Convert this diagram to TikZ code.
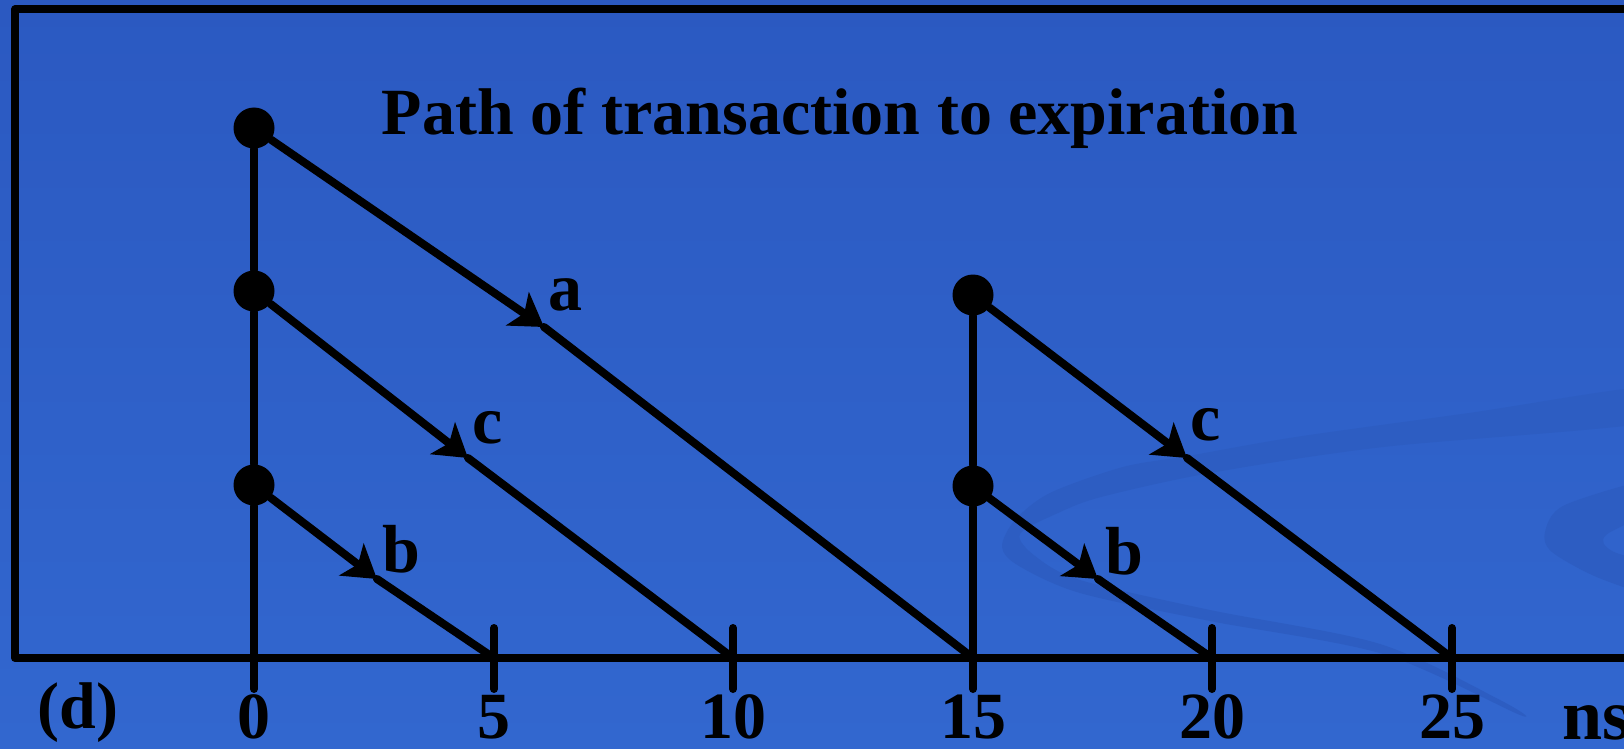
\documentclass[tikz,border=0pt]{standalone}
\usepackage{fontspec}
\setmainfont{Liberation Serif}
\usepackage{tikz}
\usetikzlibrary{arrows.meta}
\definecolor{bgTop}{HTML}{2B59C1}
\definecolor{bgBot}{HTML}{3267CF}
\definecolor{bgSwoosh}{HTML}{2D5DC2}

\begin{document}
\begin{tikzpicture}[x=0.5pt, y=-0.5pt,
                    frame/.style={line width=4pt, line join=round, line cap=round},
                    trans/.style={line width=4pt, line cap=round},
                    tipped/.style={trans, -{Stealth[length=16pt, width=20pt, inset=4pt]}},
                    ptdot/.style={circle, fill=black, minimum size=20.5pt, inner sep=0pt},
                    lbl/.style={inner sep=0pt, font=\fontsize{34}{38}\selectfont\bfseries},
                    num/.style={inner sep=0pt, font=\fontsize{33}{36}\selectfont\bfseries}
                ]
                    \useasboundingbox (0,0) rectangle (1624,749);
                    \clip (0,0) rectangle (1624,749);
                    \fill[top color=bgTop, bottom color=bgBot] (0,0) rectangle (1624,749);
                    \fill[bgSwoosh] plot[smooth cycle, tension=0.5] coordinates {
                        (1660,386) (1469,413) (1296,437) (1188,456) (1123,467) (1050,493)
                        (1015,520) (1002,547) (1019,566) (1080,593) (1210,621) (1383,654)
                        (1520,715) (1500,700) (1380,644) (1210,610) (1080,580) (1035,556)
                        (1020,534) (1058,513) (1101,497) (1210,473) (1383,447) (1660,421)};
                    \fill[bgSwoosh] plot[smooth cycle, tension=0.5] coordinates {
                        (1660,478) (1565,505) (1545,532) (1552,552) (1599,578) (1660,596)
                        (1660,568) (1612,551) (1606,535) (1660,506)};
                    \draw[frame] (1660,9.5) -- (15,9.5) -- (15,658) -- (1660,658);
                    \foreach \k/\x in {0/254,5/494,10/733,15/973,20/1212,25/1452} {
                        \coordinate (t\k) at (\x,658);
                        \draw[trans] (\x,628) -- (\x,689);
                        \node[num] (n\k) at (\x,717) {\k};
                    }
                    \node[ptdot] (a0) at (254,128) {};
                    \node[ptdot] (c0) at (254,291) {};
                    \node[ptdot] (b0) at (254,485) {};
                    \node[ptdot] (c15) at (973,295) {};
                    \node[ptdot] (b15) at (973,486) {};
                    \coordinate (ma) at (544,327);
                    \coordinate (mc) at (468,458);
                    \coordinate (mb) at (377,579);
                    \coordinate (mc2) at (1187,458);
                    \coordinate (mb2) at (1098,579);
                    \draw[trans] (a0) -- (c0) -- (b0) -- (t0);
                    \draw[trans] (c15) -- (b15) -- (t15);
                    \draw[tipped] (a0) -- (ma);
                    \draw[trans] (ma) -- (t15);
                    \draw[tipped] (c0) -- (mc);
                    \draw[trans] (mc) -- (t10);
                    \draw[tipped] (b0) -- (mb);
                    \draw[trans] (mb) -- (t5);
                    \draw[tipped] (c15) -- (mc2);
                    \draw[trans] (mc2) -- (t25);
                    \draw[tipped] (b15) -- (mb2);
                    \draw[trans] (mb2) -- (t20);
                    \node[lbl] (la) at (565,295) {a};
                    \node[lbl] (lc) at (488,428) {c};
                    \node[lbl] (lb) at (401,549) {b};
                    \node[lbl] (lc2) at (1206,425) {c};
                    \node[lbl] (lb2) at (1124,551) {b};
                    \node[inner sep=0pt, anchor=base, font=\fontsize{33}{36}\selectfont\bfseries] (title) at (840,134) {Path of transaction to expiration};
                    \node[lbl, font=\fontsize{33}{36}\selectfont\bfseries] (part) at (78,713) {(d)};
                    \node[lbl, anchor=west, font=\fontsize{36}{40}\selectfont\bfseries] (unit) at (1562,723) {ns};
                \end{tikzpicture}
\end{document}
